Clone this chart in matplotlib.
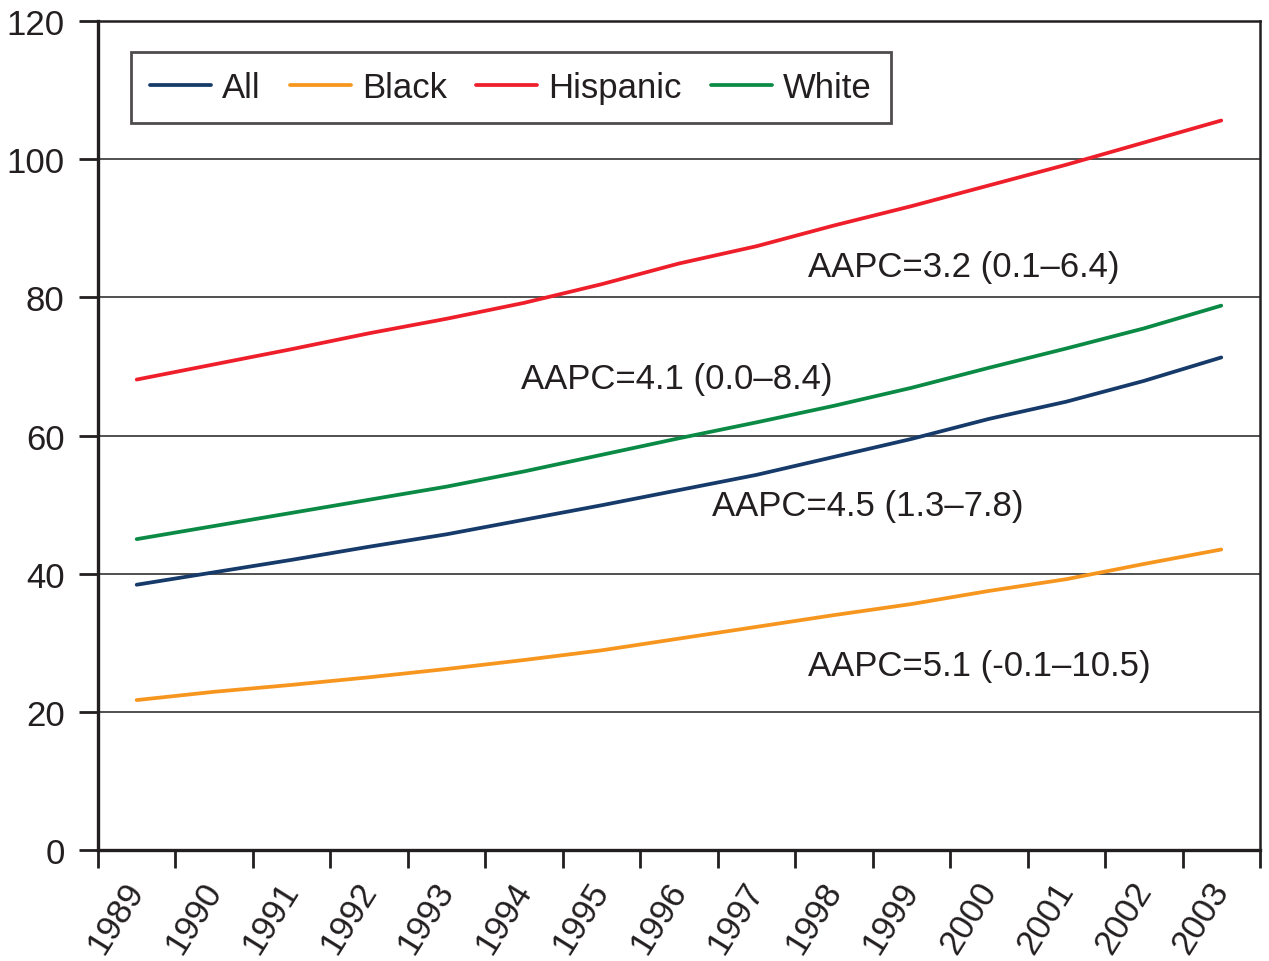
import numpy as np
import matplotlib.pyplot as plt

plt.rcParams['font.family'] = ['Liberation Sans', 'DejaVu Sans']

years = [str(y) for y in range(1989, 2004)]

# rates
all_rate = [38.4, 40.2, 42.0, 43.9, 45.7, 47.8, 49.9, 52.1, 54.3, 56.9, 59.5, 62.4, 64.9, 67.9, 71.3]
black_rate = [21.7, 22.9, 23.9, 25.0, 26.2, 27.5, 28.9, 30.6, 32.3, 34.0, 35.6, 37.5, 39.2, 41.4, 43.5]
hispanic_rate = [68.1, 70.3, 72.5, 74.8, 76.9, 79.2, 81.9, 84.9, 87.4, 90.4, 93.2, 96.2, 99.2, 102.4, 105.6]
white_rate = [45.0, 46.9, 48.8, 50.7, 52.6, 54.8, 57.2, 59.6, 61.9, 64.3, 66.9, 69.8, 72.6, 75.5, 78.8]

series = [
    ('All', all_rate, '#163a6a'),
    ('Black', black_rate, '#f7961e'),
    ('Hispanic', hispanic_rate, '#ee1f2a'),
    ('White', white_rate, '#0a8a45'),
]

notes = [
    ('AAPC=3.2 (0.1\u20136.4)', 8.67, 84.4),
    ('AAPC=4.1 (0.0\u20138.4)', 4.96, 68.2),
    ('AAPC=4.5 (1.3\u20137.8)', 7.43, 49.8),
    ('AAPC=5.1 (-0.1\u201310.5)', 8.67, 26.7),
]

fs = 25
ink = '#231f20'

fig = plt.figure(figsize=(12.69, 9.62), dpi=100)
ax = fig.add_axes([0.0772, 0.1154, 0.9157, 0.8617])

x = np.arange(len(years))
for name, vals, col in series:
    ax.plot(x, vals, color=col, lw=2.7, label=name, solid_capstyle='round')

ax.set_xlim(-0.5, len(years) - 0.5)
ax.set_ylim(0, 120)
ax.set_yticks(range(0, 121, 20))
ax.yaxis.grid(True, color='#505050', lw=1.4)
ax.set_axisbelow(True)

# ticks between the categories, labels at the centres
ax.set_xticks(np.arange(-0.5, len(years)), minor=False)
ax.set_xticklabels([])
ax.set_xticks(x, minor=True)
ax.set_xticklabels(years, minor=True, rotation=58, ha='right', va='center',
                   rotation_mode='anchor', fontsize=fs, color=ink)
ax.tick_params(axis='x', which='minor', length=0, pad=25)
ax.tick_params(axis='x', which='major', length=13, width=2, direction='out', color=ink)
ax.tick_params(axis='y', length=14, width=2, direction='out', labelsize=fs,
               color=ink, labelcolor=ink, pad=10)

for side in ['left', 'bottom']:
    ax.spines[side].set_linewidth(2.4)
    ax.spines[side].set_color(ink)
for side in ['top', 'right']:
    ax.spines[side].set_linewidth(1.8)
    ax.spines[side].set_color(ink)

for txt, tx, ty in notes:
    ax.text(tx, ty, txt, fontsize=fs, color=ink, ha='left', va='center')

leg = ax.legend(loc='upper left', bbox_to_anchor=(0.0284, 0.963), ncol=4, fontsize=fs,
                frameon=True, fancybox=False, handlelength=1.75, handletextpad=0.32,
                columnspacing=0.85, borderpad=0.55, borderaxespad=0)
leg.get_frame().set_edgecolor(ink)
leg.get_frame().set_linewidth(2)
for t in leg.get_texts():
    t.set_color(ink)

fig.savefig('out.png', dpi=100, facecolor='white')
